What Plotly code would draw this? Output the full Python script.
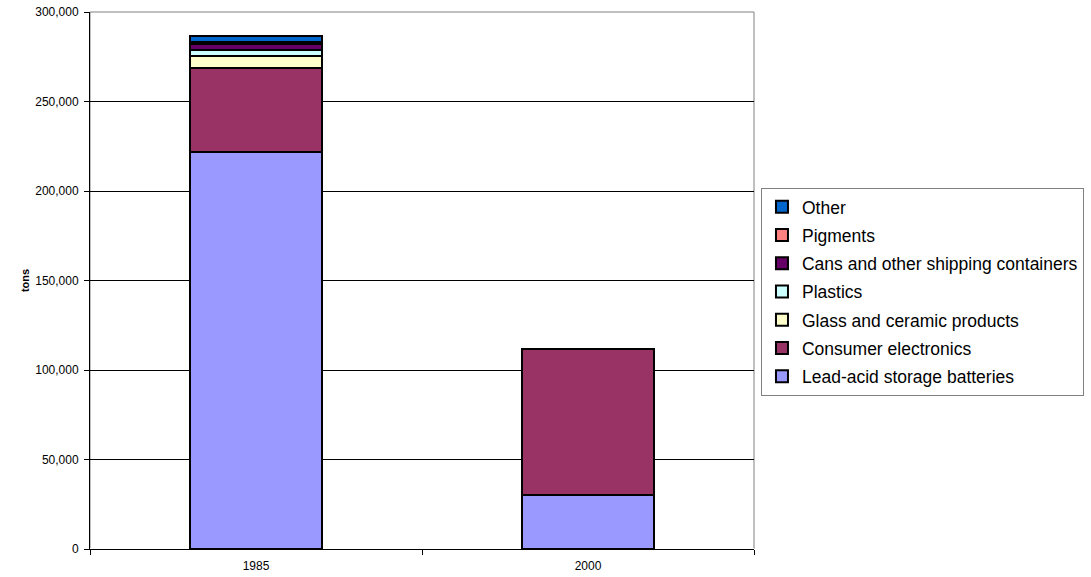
import plotly.graph_objects as go

years = ["1985", "2000"]

# tons per end use
lead_acid = [222000, 30000]
consumer_electronics = [46500, 81500]
glass_ceramic = [7000, 0]
plastics = [3100, 0]
cans = [3300, 0]
pigments = [1500, 0]
other = [3000, 0]

series = [
    ("Lead-acid storage batteries", lead_acid, "#9999FF"),
    ("Consumer electronics", consumer_electronics, "#993366"),
    ("Glass and ceramic products", glass_ceramic, "#FFFFCC"),
    ("Plastics", plastics, "#CCFFFF"),
    ("Cans and other shipping containers", cans, "#660066"),
    ("Pigments", pigments, "#FF8080"),
    ("Other", other, "#0066CC"),
]

fig = go.Figure()
for i, (name, vals, col) in enumerate(series):
    fig.add_trace(go.Bar(
        x=years, y=vals, name=name, legendgroup=name,
        legendrank=len(series) - i,  # top segment listed first
        marker=dict(color=col, line=dict(color="black", width=2)),
    ))

fig.update_layout(
    width=1091, height=577,
    barmode="stack", bargap=0.6,
    plot_bgcolor="white", paper_bgcolor="white",
    font=dict(family="Liberation Sans, Arial, sans-serif", size=12, color="black"),
    margin=dict(l=90, r=337, t=12, b=28, autoexpand=False),
    showlegend=True,
    legend=dict(
        x=1.0105, y=0.6723, xanchor="left", yanchor="top",
        traceorder="grouped", tracegroupgap=2.5,
        font=dict(size=17.5, color="black"),
        bordercolor="#808080", borderwidth=1,
        itemclick=False,
    ),
)

fig.update_xaxes(
    showline=True, linecolor="black", linewidth=1,
    ticks="outside", tickson="boundaries", ticklen=5, tickcolor="black",
    ticklabelstandoff=6,
    showgrid=False, automargin=False,
)
fig.update_yaxes(
    range=[0, 300000], dtick=50000, tickformat=",",
    showline=True, linecolor="black", linewidth=1,
    ticks="outside", ticklen=5, tickcolor="black",
    ticklabelstandoff=3, ticklabeloverflow="allow",
    showgrid=True, gridcolor="black", gridwidth=1, automargin=False,
    title=dict(text="<b>tons</b>", font=dict(size=11, color="black"), standoff=3),
)

# gray plot-area frame (top and right edges)
fig.add_shape(type="rect", xref="paper", yref="paper", x0=0, x1=1, y0=0, y1=1,
              line=dict(color="#808080", width=1), layer="below")

# drop the default 8px body margin so the figure sits at the window corner
fig.write_html("out.html", config={"displayModeBar": False},
               post_script="document.body.style.margin='0px';")
